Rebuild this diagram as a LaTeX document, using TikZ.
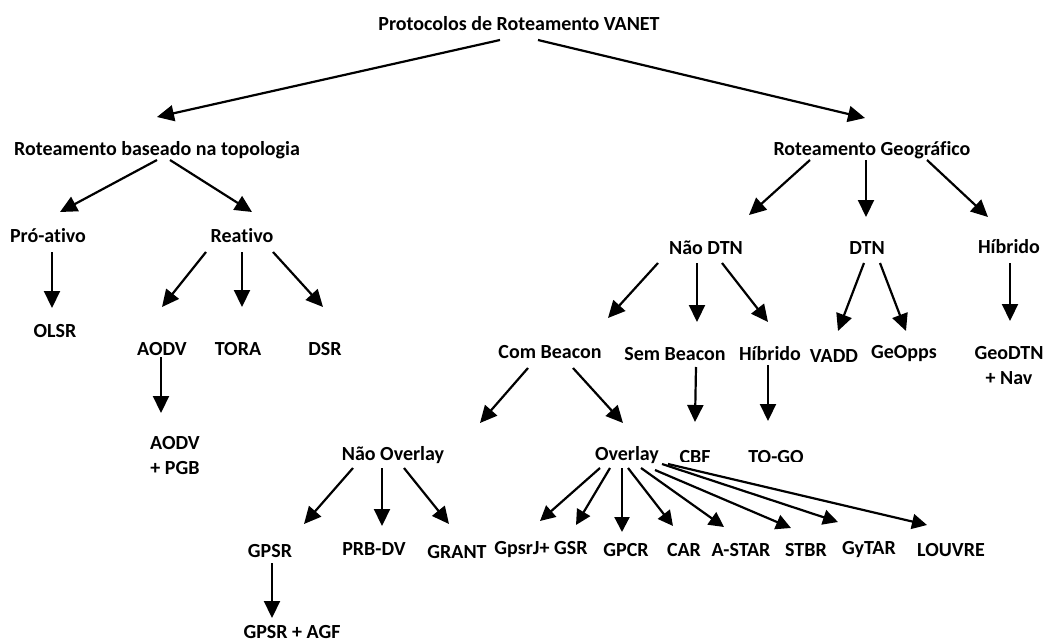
\documentclass[tikz,border=0pt]{standalone}
\usepackage{fontspec}
\setmainfont{Carlito}[Ligatures=NoCommon]
\usetikzlibrary{arrows.meta}
\tikzset{
  lbl/.style={inner sep=0pt, font=\fontsize{20}{25}\selectfont\bfseries, align=center},
  arr/.style={line width=2.2pt, -{Triangle[length=17pt,width=16pt]}},
  arrs/.style={line width=2.2pt, -{Triangle[length=15pt,width=15pt]}},
}
% connector between two named nodes, each end shifted from the node centre
\newcommand\conn[5][arr]{\draw[#1] ([shift={(#3)}]#2.center) -- ([shift={(#5)}]#4.center);}
\begin{document}
\begin{tikzpicture}[x=1pt,y=-1pt]
\useasboundingbox (0,0) rectangle (1045,642);

% level 0 and 1
\node[lbl] (title) at (519,24) {Protocolos de Roteamento VANET};
\node[lbl] (topo) at (157,150) {Roteamento baseado na topologia};
\node[lbl] (geo) at (872,150) {Roteamento Geográfico};

% topology-based branch
\node[lbl] (pro) at (48,236) {Pró-ativo};
\node[lbl] (reat) at (242,236) {Reativo};
\node[lbl] (olsr) at (55,331) {OLSR};
\node[lbl] (aodv) at (162,349) {AODV};
\node[lbl] (tora) at (238,349) {TORA};
\node[lbl] (dsr) at (325,349) {DSR};
\node[lbl] (aodvpgb) at (175,456) {AODV\\+ PGB};

% geographic branch
\node[lbl] (naodtn) at (706,248) {Não DTN};
\node[lbl] (dtn) at (867,248) {DTN};
\node[lbl] (hib) at (1009,247) {Híbrido};
\node[lbl] (combeacon) at (550,352) {Com Beacon};
\node[lbl] (sembeacon) at (675,354) {Sem Beacon};
\node[lbl] (hib2) at (770,354) {Híbrido};
\node[lbl] (vadd) at (834,356) {VADD};
\node[lbl] (geopps) at (904,354) {GeOpps};
\node[lbl] (geodtn) at (1009,366) {GeoDTN\\+ Nav};
\node[lbl] (naooverlay) at (393,455) {Não Overlay};
\node[lbl] (overlay) at (627,455) {Overlay};
\begin{scope}
  \clip (660,430) rectangle (820,461);
  \node[lbl] (cbf) at (695,457) {CBF};
  \node[lbl] (togo) at (776,457) {TO-GO};
\end{scope}
\node[lbl] (gpsr) at (270,551) {GPSR};
\node[lbl] (prbdv) at (374,549) {PRB-DV};
\node[lbl] (grant) at (457,552) {GRANT};
\begin{scope}
  \clip (490,530) rectangle (1000,558);
  \node[lbl] (gpsrj) at (541,550) {GpsrJ+ GSR};
  \node[lbl] (gpcr) at (626,550) {GPCR};
  \node[lbl] (car) at (684,550) {CAR};
  \node[lbl] (astar) at (741,550) {A-STAR};
  \node[lbl] (stbr) at (806,550) {STBR};
  \node[lbl] (gytar) at (869,550) {GyTAR};
  \node[lbl] (louvre) at (951,550) {LOUVRE};
\end{scope}
\node[lbl] (gpsragf) at (292,632) {GPSR + AGF};

% connectors
\conn{title}{-19,16}{topo}{0,-33}
\conn{title}{19,16}{geo}{-7,-32}
\conn{topo}{0,10}{pro}{12,-24}
\conn{topo}{13,10}{reat}{10,-24}
\conn{pro}{4,16}{olsr}{-3,-23}
\conn{reat}{-36,16}{aodv}{0,-42}
\conn{reat}{0,16}{tora}{4,-42}
\conn{reat}{31,16}{dsr}{-2,-42}
\conn{aodv}{-1,8}{aodvpgb}{-14,-43}
\conn{geo}{-62,10}{naodtn}{43,-33}
\conn{geo}{-6,10}{dtn}{-1,-31}
\conn{geo}{55,10}{hib}{-21,-30}
\conn{naodtn}{-48,15}{combeacon}{58,-34}
\conn{naodtn}{-9,15}{sembeacon}{22,-32}
\conn{naodtn}{16,15}{hib2}{-2,-32}
\conn{dtn}{-3,15}{vadd}{4,-25}
\conn{dtn}{13,15}{geopps}{2,-23}
\conn{hib}{1,16}{geodtn}{1,-45}
\conn{combeacon}{-22,16}{naooverlay}{87,-32}
\conn{combeacon}{23,16}{overlay}{-4,-32}
\conn{sembeacon}{21,13}{cbf}{0,-35}
\conn{hib2}{-2,11}{togo}{-8,-36}
\conn{naooverlay}{-40,13}{gpsr}{34,-27}
\conn{naooverlay}{-11,13}{prbdv}{8,-23}
\conn{naooverlay}{11,13}{grant}{-8,-28}
\conn[arrs]{overlay}{-27,13}{gpsrj}{-1,-29}
\conn[arrs]{overlay}{-17,13}{gpsrj}{35,-25}
\conn[arrs]{overlay}{-5,13}{gpcr}{-4,-18}
\conn[arrs]{overlay}{1,13}{car}{-11,-24}
\conn[arrs]{overlay}{14,13}{astar}{-17,-23}
\conn[arrs]{overlay}{28,15}{stbr}{-15,-22}
\conn[arrs]{overlay}{35,9}{gytar}{-31,-28}
\conn[arrs]{overlay}{41,9}{louvre}{-24,-25}
\conn{gpsr}{2,12}{gpsragf}{-20,-14}
\end{tikzpicture}
\end{document}
